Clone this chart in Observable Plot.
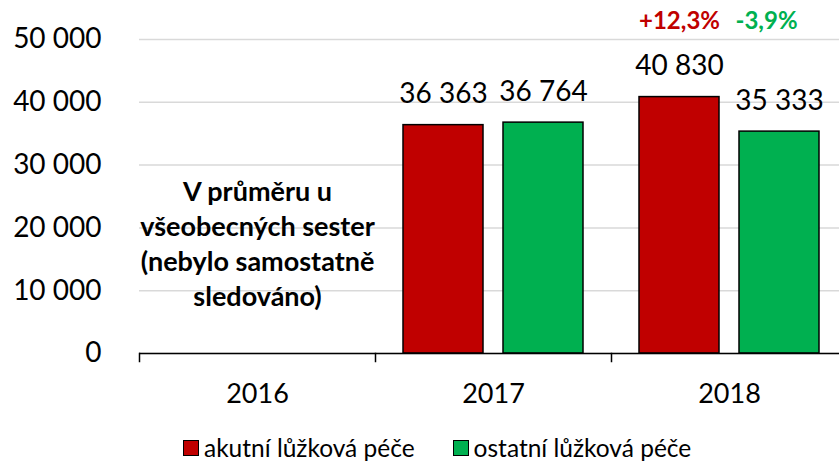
<!DOCTYPE html>
<html>
<head>
<meta charset="utf-8">
<script src="https://cdn.jsdelivr.net/npm/d3@7"></script>
<script src="https://cdn.jsdelivr.net/npm/@observablehq/plot@0.6"></script>
<style>
  html, body { margin: 0; padding: 0; background: #fff; overflow: hidden; }
  #wrap { position: relative; width: 839px; height: 464px; overflow: hidden; font-family: Lato, sans-serif; }
  #legend { position: absolute; left: 183px; top: 436px; display: flex; align-items: center; font-size: 24.5px; line-height: 24px; color: #000; white-space: nowrap; }
  .sw { width: 14px; height: 14px; border: 1.5px solid #000; display: inline-block; margin-right: 5px; }
  .item { display: flex; align-items: center; margin-right: 38px; }
</style>
</head>
<body>
<div id="wrap"><div id="chart"></div><div id="legend"></div></div>
<script>
const years = ["2016", "2017", "2018"];
const series = ["akutní lůžková péče", "ostatní lůžková péče"];
const colors = ["#C00000", "#00B050"];
const acute = [null, 36363, 40830];
const other = [null, 36764, 35333];
const changeYear = "2018";
const changeLabels = ["+12,3%", "-3,9%"];
const note = "V průměru u\nvšeobecných sester\n(nebylo samostatně\nsledováno)";
const noteYear = "2016";
const yTicks = [0, 10000, 20000, 30000, 40000, 50000];

const locale = d3.formatLocale({decimal: ",", thousands: "\u00a0", grouping: [3], currency: ["", ""]});
const fmt = locale.format(",d");

const rows = [];
years.forEach((y, i) => {
  if (acute[i] != null) rows.push({year: y, series: series[0], value: acute[i]});
  if (other[i] != null) rows.push({year: y, series: series[1], value: other[i]});
});
const changes = series.map((s, i) => ({year: changeYear, series: s, text: changeLabels[i], color: colors[i]}));

const chart = Plot.plot({
  width: 847,
  height: 415,
  marginTop: 39,
  marginBottom: 62,
  marginLeft: 139,
  marginRight: 0,
  style: {fontFamily: "Lato, sans-serif", color: "#000", background: "#fff", maxWidth: "none"},
  fx: {domain: years, padding: 0, axis: null, label: null},
  x: {domain: series, paddingInner: 0.2, paddingOuter: 0.27, axis: null, label: null},
  y: {domain: [0, 50000], axis: null, label: null},
  color: {domain: series, range: colors},
  marks: [
    Plot.gridY(yTicks, {stroke: "#d9d9d9", strokeOpacity: 1, strokeWidth: 1.5}),
    Plot.axisY(yTicks, {tickSize: 0, tickPadding: 38, tickFormat: fmt, fontSize: 28, fill: "#000", label: null}),
    Plot.axisFx({anchor: "bottom", tickSize: 0, tickPadding: 30, fontSize: 27, fill: "#000", label: null}),
    Plot.barY(rows, {fx: "year", x: "series", y: "value", fill: "series", stroke: "#000", strokeWidth: 1.5}),
    Plot.ruleY([0], {stroke: "#000", strokeWidth: 1.5}),
    Plot.frame({anchor: "left", insetTop: 314, insetBottom: -8, stroke: "#000", strokeWidth: 1.5}),
    Plot.text(rows, {fx: "year", x: "series", y: "value", text: d => fmt(d.value), dy: -31, fontSize: 28, fill: "#000"}),
    Plot.text(changes.slice(0, 1), {fx: "year", x: "series", y: () => 50000, text: "text", fill: "color", dy: -18, fontSize: 24, fontWeight: "bold"}),
    Plot.text(changes.slice(1), {fx: "year", x: "series", y: () => 50000, text: "text", fill: "color", dx: -13, dy: -18, fontSize: 24, fontWeight: "bold"}),
    Plot.text([note], {fx: () => noteYear, text: d => d, frameAnchor: "middle", dy: 46, fontSize: 27, fontWeight: "bold", lineHeight: 1.3, fill: "#000"})
  ]
});
document.getElementById("chart").appendChild(chart);

const legend = document.getElementById("legend");
series.forEach((s, i) => {
  const it = document.createElement("div");
  it.className = "item";
  const sw = document.createElement("span");
  sw.className = "sw";
  sw.style.background = colors[i];
  const t = document.createElement("span");
  t.textContent = s;
  it.appendChild(sw); it.appendChild(t);
  legend.appendChild(it);
});
</script>
</body>
</html>
